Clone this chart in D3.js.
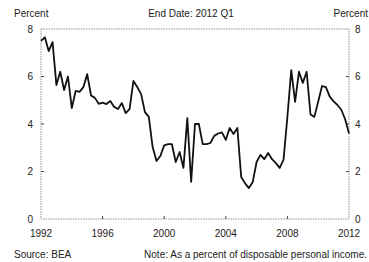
<!DOCTYPE html>
<html>
<head>
<meta charset="utf-8">
<script src="https://cdn.jsdelivr.net/npm/d3@7"></script>
<style>
  body { margin: 0; background: #fff; }
  text { font-family: "Liberation Sans", Arial, sans-serif; fill: #222; }
</style>
</head>
<body>
<svg id="chart" width="369" height="262"></svg>
<script>
// personal saving rate, quarterly, 1992 Q1 - 2012 Q1
var startYear = 1992;
var saving = [
    7.5, 7.65, 7.07, 7.45,   // 1992
    5.64, 6.2, 5.43, 6.0,    // 1993
    4.67, 5.39, 5.35, 5.55,  // 1994
    6.1, 5.2, 5.1, 4.85,     // 1995
    4.9, 4.84, 4.97, 4.72,   // 1996
    4.63, 4.88, 4.46, 4.63,  // 1997
    5.81, 5.56, 5.26, 4.5,   // 1998
    4.3, 3.03, 2.44, 2.65,   // 1999
    3.1, 3.15, 3.15, 2.4,    // 2000
    2.82, 2.15, 4.25, 1.56,  // 2001
    4.0, 4.0, 3.15, 3.15,    // 2002
    3.2, 3.5, 3.6, 3.65,     // 2003
    3.33, 3.83, 3.58, 3.83,  // 2004
    1.77, 1.5, 1.3, 1.56,    // 2005
    2.4, 2.7, 2.52, 2.78,    // 2006
    2.52, 2.35, 2.15, 2.5,   // 2007
    4.3, 6.27, 4.93, 6.2,    // 2008
    5.73, 6.2, 4.4, 4.3,     // 2009
    4.95, 5.6, 5.55, 5.15,   // 2010
    4.95, 4.8, 4.6, 4.2,     // 2011
    3.6                      // 2012
];
var xTicks = [1992, 1996, 2000, 2004, 2008, 2012];
var yTicks = [0, 2, 4, 6, 8];

var svg = d3.select("#chart");
var plotLeft = 41, plotRight = 349, plotTop = 29, plotBottom = 219;

var x = d3.scaleLinear().domain([1992, 2012]).range([plotLeft, plotRight]);
var y = d3.scaleLinear().domain([0, 8]).range([plotBottom, plotTop]);

// frame
svg.append("rect")
    .attr("x", plotLeft)
    .attr("y", plotTop)
    .attr("width", plotRight - plotLeft)
    .attr("height", plotBottom - plotTop)
    .attr("fill", "none")
    .attr("stroke", "#777")
    .attr("stroke-width", 0.8)
    .attr("stroke-dasharray", "1.5,1");

// ticks
svg.selectAll(".xt")
    .data(xTicks.slice(1, -1))
    .enter()
    .append("line")
    .attr("x1", function(d) { return x(d); })
    .attr("x2", function(d) { return x(d); })
    .attr("y1", plotBottom)
    .attr("y2", plotBottom - 3)
    .attr("stroke", "#444");

svg.selectAll(".ytl")
    .data(yTicks.slice(1, -1))
    .enter()
    .append("line")
    .attr("x1", plotLeft)
    .attr("x2", plotLeft + 3)
    .attr("y1", function(d) { return y(d); })
    .attr("y2", function(d) { return y(d); })
    .attr("stroke", "#444");

svg.selectAll(".ytr")
    .data(yTicks.slice(1, -1))
    .enter()
    .append("line")
    .attr("x1", plotRight)
    .attr("x2", plotRight - 3)
    .attr("y1", function(d) { return y(d); })
    .attr("y2", function(d) { return y(d); })
    .attr("stroke", "#444");

// tick labels
svg.selectAll(".yl")
    .data(yTicks)
    .enter()
    .append("text")
    .attr("x", 33)
    .attr("y", function(d) { return y(d); })
    .attr("dy", "0.35em")
    .attr("text-anchor", "end")
    .style("font-size", "10px")
    .text(function(d) { return d; });

svg.selectAll(".yr")
    .data(yTicks)
    .enter()
    .append("text")
    .attr("x", 355)
    .attr("y", function(d) { return y(d); })
    .attr("dy", "0.35em")
    .style("font-size", "10px")
    .text(function(d) { return d; });

svg.selectAll(".xl")
    .data(xTicks)
    .enter()
    .append("text")
    .attr("x", function(d) { return x(d); })
    .attr("y", 237)
    .attr("text-anchor", "middle")
    .style("font-size", "10px")
    .text(function(d) { return d; });

// titles
svg.append("text").attr("x", 14).attr("y", 17).style("font-size", "10px").text("Percent");
svg.append("text").attr("x", 368).attr("y", 17).attr("text-anchor", "end").style("font-size", "10px").text("Percent");
svg.append("text").attr("x", 191).attr("y", 17).attr("text-anchor", "middle").style("font-size", "10px").text("End Date: 2012 Q1");

svg.append("text").attr("x", 14).attr("y", 258).style("font-size", "10px").text("Source: BEA");
svg.append("text").attr("x", 367).attr("y", 258).attr("text-anchor", "end").style("font-size", "10px")
    .text("Note: As a percent of disposable personal income.");

// series
var line = d3.line()
    .x(function(d, i) { return x(startYear + i / 4); })
    .y(function(d) { return y(d); });

svg.append("path")
    .datum(saving)
    .attr("d", line)
    .attr("fill", "none")
    .attr("stroke", "#111")
    .attr("stroke-width", 1.8)
    .attr("stroke-linejoin", "round");
</script>
</body>
</html>
